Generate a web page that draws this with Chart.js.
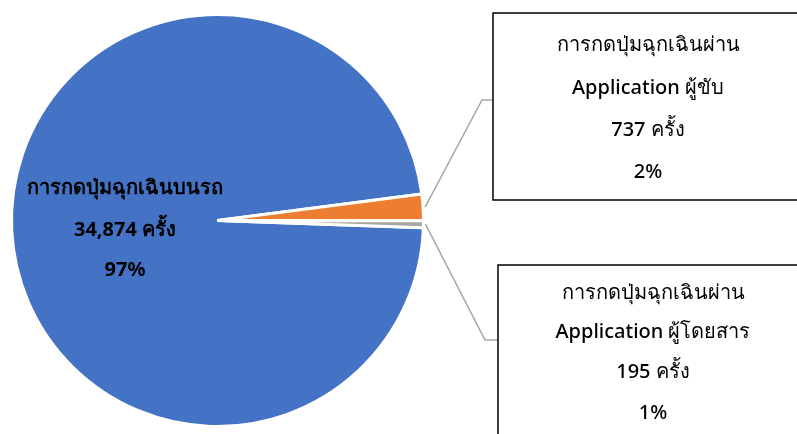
<!DOCTYPE html>
<html>
<head>
<meta charset="utf-8">
<script src="https://cdn.jsdelivr.net/npm/chart.js@4.4.0/dist/chart.umd.min.js"></script>
<style>
  html, body { margin: 0; padding: 0; background: #fff; }
  #wrap { width: 797px; height: 434px; position: relative; }
</style>
</head>
<body>
<div id="wrap"><canvas id="myChart" width="797" height="434"></canvas></div>
<script>
// data
const categories = [
  ["การกดปุ่มฉุกเฉินบนรถ"],
  ["การกดปุ่มฉุกเฉินผ่าน", "Application ผู้ขับ"],
  ["การกดปุ่มฉุกเฉินผ่าน", "Application ผู้โดยสาร"],
];
const counts = [34874, 737, 195];
const colors = ["#4472C4", "#ED7D31", "#A5A5A5"];
const unit = "ครั้ง";

const FONT = "'Noto Sans', Tahoma, sans-serif";

function labelLines(i) {
  const total = counts.reduce((a, b) => a + b, 0);
  const pct = Math.round((counts[i] / total) * 100) + "%";
  return [...categories[i], counts[i].toLocaleString("en-US") + " " + unit, pct];
}

// label boxes (position only, text comes from the data)
const boxes = {
  1: { x: 493, y: 13, w: 310, h: 187, cx: 648, lineY: [45, 88, 130, 172], elbow: [482, 100] },
  2: { x: 498, y: 265, w: 310, h: 180, cx: 653, lineY: [293, 332, 372, 413], elbow: [485, 340] },
};

const labelPlugin = {
  id: "labelPlugin",
  afterDraw(chart) {
    const ctx = chart.ctx;
    const arcs = chart.getDatasetMeta(0).data;
    ctx.save();
    ctx.textAlign = "center";
    ctx.textBaseline = "middle";
    ctx.fillStyle = "#000";

    // label inside the big slice
    ctx.font = "bold 20px " + FONT;
    const inner = labelLines(0);
    const innerY = [188, 230, 270];
    inner.forEach((t, k) => ctx.fillText(t, 125, innerY[k]));

    // small slices: leader line + boxed label
    [1, 2].forEach((i) => {
      const a = arcs[i];
      const b = boxes[i];
      const mid = (a.startAngle + a.endAngle) / 2;
      const r = a.outerRadius + 2;
      const sx = a.x + Math.cos(mid) * r;
      const sy = a.y + Math.sin(mid) * r;

      ctx.strokeStyle = "#A6A6A6";
      ctx.lineWidth = 1.5;
      ctx.beginPath();
      ctx.moveTo(sx, sy);
      ctx.lineTo(b.elbow[0], b.elbow[1]);
      ctx.lineTo(b.x, b.elbow[1]);
      ctx.stroke();

      ctx.fillStyle = "#fff";
      ctx.fillRect(b.x, b.y, b.w, b.h);
      ctx.strokeStyle = "#000";
      ctx.lineWidth = 1.5;
      ctx.strokeRect(b.x, b.y, b.w, b.h);

      ctx.fillStyle = "#000";
      ctx.font = "500 20px " + FONT;
      labelLines(i).forEach((t, k) => ctx.fillText(t, b.cx, b.lineY[k]));
    });
    ctx.restore();
  },
};

const ctx = document.getElementById("myChart");
new Chart(ctx, {
  type: "pie",
  data: {
    labels: categories.map((c) => c.join(" ")),
    datasets: [
      {
        data: counts,
        backgroundColor: colors,
        borderColor: "#fff",
        borderWidth: 3,
      },
    ],
  },
  options: {
    responsive: false,
    animation: false,
    rotation: 92,
    layout: { padding: { left: 10, top: 13, right: 372, bottom: 6 } },
    plugins: {
      legend: { display: false },
      tooltip: { enabled: false },
    },
  },
  plugins: [labelPlugin],
});
</script>
</body>
</html>
